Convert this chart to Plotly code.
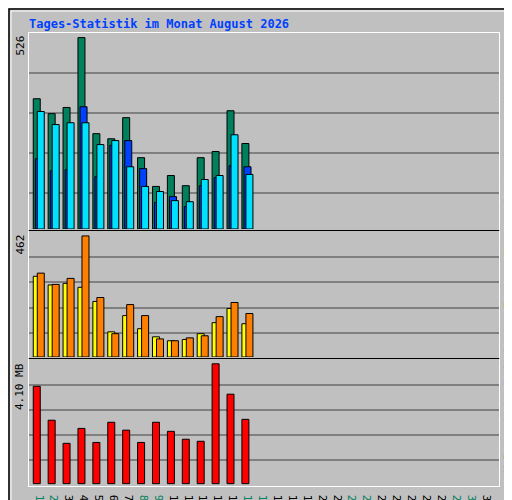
import plotly.graph_objects as go

# Tagesdaten August 2026 (nur 1.-15. vorhanden)
tage = list(range(1, 16))
anfragen = [358, 317, 334, 526, 262, 248, 306, 196, 117, 147, 119, 196, 213, 325, 235]
dateien = [193, 160, 163, 336, 144, 230, 243, 166, 73, 89, 62, 119, 141, 174, 171]
seiten = [323, 287, 292, 292, 232, 243, 171, 117, 103, 78, 75, 136, 147, 259, 150]
besuche = [308, 275, 281, 266, 212, 96, 158, 108, 77, 62, 67, 89, 131, 185, 127]
rechner = [320, 277, 300, 462, 227, 89, 200, 158, 69, 62, 73, 81, 154, 208, 166]
volumen_mb = [3.33, 2.17, 1.38, 1.89, 1.41, 2.10, 1.83, 1.41, 2.10, 1.79, 1.52, 1.45, 4.10, 3.06, 2.20]
wochenende = [1, 2, 8, 9, 15, 16, 22, 23, 29, 30]

GRUEN = "#00805C"
BLAU = "#0040FF"
CYAN = "#00E0FF"
GELB = "#FFFF00"
ORANGE = "#FF8000"
ROT = "#FF0000"
GRAU = "#C0C0C0"
MONO = "DejaVu Sans Mono"

# Plotbereich in Pixeln: x 21..491, y 25..478
def px(x):
    return (x - 21) / 470

def py(y):
    return (478 - y) / 453

fig = go.Figure()

def balken(y, farbe, offset, achse):
    fig.add_trace(go.Bar(x=tage, y=y, offset=offset, width=0.47,
                         marker=dict(color=farbe, line=dict(color="black", width=1)),
                         xaxis=achse[0], yaxis=achse[1], showlegend=False))

balken(anfragen, GRUEN, -0.52, ("x", "y"))
balken(dateien, BLAU, -0.38, ("x", "y"))
balken(seiten, CYAN, -0.25, ("x", "y"))
balken(besuche, GELB, -0.52, ("x2", "y2"))
balken(rechner, ORANGE, -0.25, ("x2", "y2"))
balken(volumen_mb, ROT, -0.52, ("x3", "y3"))

xr = [0.195, 31.73]
achse_x = dict(range=xr, domain=[0, 1], showgrid=False, zeroline=False,
               showline=True, linecolor="white", mirror=True, fixedrange=True)
achse_y = dict(showticklabels=False, ticks="", zeroline=False, showgrid=True,
               gridcolor="#808080", gridwidth=1.5, showline=True, linecolor="white", mirror=True)

ticktext = [f"<span style='color:{'#00805C' if d in wochenende else 'black'}'>{d}</span>"
            for d in range(1, 32)]

fig.update_layout(
    width=512, height=500, margin=dict(l=21, r=21, t=25, b=22, autoexpand=False),
    paper_bgcolor=GRAU, plot_bgcolor=GRAU, barmode="overlay",
    font=dict(family=MONO, size=11, color="black"),
    xaxis=dict(achse_x, anchor="y", showticklabels=False, ticks=""),
    xaxis2=dict(achse_x, anchor="y2", showticklabels=False, ticks=""),
    xaxis3=dict(achse_x, anchor="y3", tickmode="array", tickvals=list(range(1, 32)),
                ticktext=ticktext, ticks="", tickfont=dict(family=MONO, size=11)),
    yaxis=dict(achse_y, domain=[py(221), 1], range=[0, 538.7], tick0=99, dtick=110),
    yaxis2=dict(achse_y, domain=[py(349), py(224)], range=[0, 477], tick0=92.4, dtick=96.25),
    yaxis3=dict(achse_y, domain=[0, py(352)], range=[-0.08, 4.23], tick0=0.80, dtick=0.856),
)

fig.add_annotation(text="<b>Tages-Statistik im Monat August 2026</b>", xref="paper", yref="paper",
                   x=px(19), y=py(7), xanchor="left", yanchor="top", showarrow=False,
                   font=dict(family=MONO, size=12, color=BLAU))

for text, ytop in [("526", 26), ("462", 225), ("4.10 MB", 353)]:
    fig.add_annotation(text=text, xref="paper", yref="paper", x=px(20), y=py(ytop),
                       xanchor="right", yanchor="top", textangle=-90, showarrow=False,
                       font=dict(family=MONO, size=11, color="black"))

teile = [("Volumen", ROT), ("Vol. In", BLAU), ("Vol. Out", GRUEN), ("Rechner", ORANGE),
         ("Besuche", GELB), ("Seiten", CYAN), ("Dateien", BLAU), ("Anfragen", GRUEN)]
rechts = "<span style='color:black'>/</span>".join(
    f"<span style='color:{c}'>{t}</span>" for t, c in teile)
fig.add_annotation(text=rechts, xref="paper", yref="paper", x=px(500), y=py(252),
                   xanchor="center", yanchor="middle", textangle=-90, showarrow=False,
                   font=dict(family=MONO, size=11))

# Rahmen
fig.add_shape(type="rect", xref="paper", yref="paper", x0=px(1), y0=py(499), x1=px(511), y1=py(1),
              line=dict(color="black", width=1.5))
fig.add_shape(type="rect", xref="paper", yref="paper", x0=px(3), y0=py(497), x1=px(509), y1=py(3),
              line=dict(color="white", width=1))
for yl in [222.5, 350.5]:
    fig.add_shape(type="line", xref="paper", yref="paper", x0=0, x1=1, y0=py(yl), y1=py(yl),
                  line=dict(color="black", width=1.5))

fig.write_html("out.html")
